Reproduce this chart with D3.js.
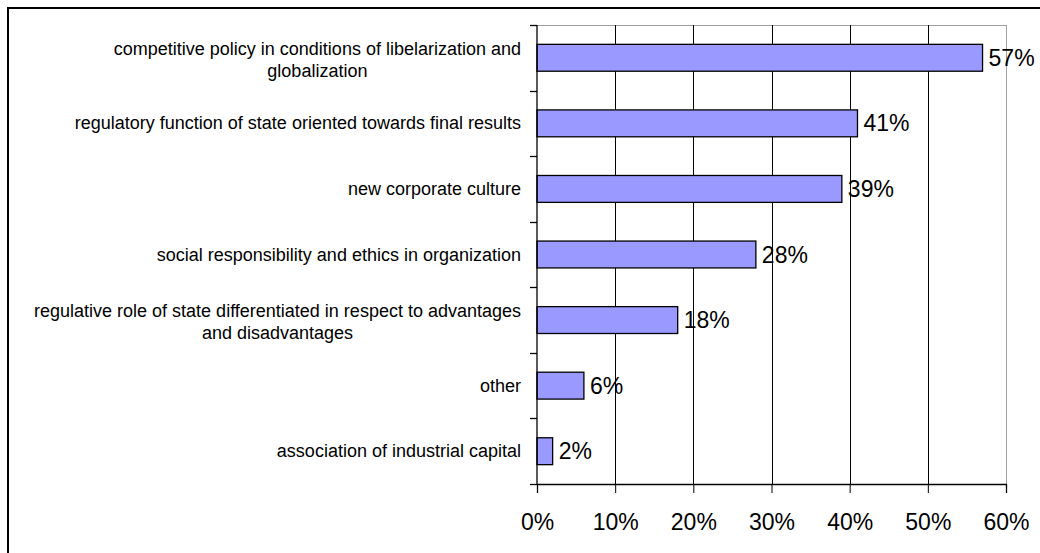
<!DOCTYPE html>
<html>
<head>
<meta charset="utf-8">
<script src="https://cdn.jsdelivr.net/npm/d3@7"></script>
<style>
  html, body { margin: 0; padding: 0; background: #fff; }
  svg { display: block; }
</style>
</head>
<body>
<svg id="chart" width="1040" height="553"></svg>
<script>
const categories = [
  ["competitive policy in conditions of libelarization and", "globalization"],
  ["regulatory function of state oriented towards final results"],
  ["new corporate culture"],
  ["social responsibility and ethics in organization"],
  ["regulative role of state differentiated in respect to advantages", "and disadvantages"],
  ["other"],
  ["association of industrial capital"]
];
const values = [57, 41, 39, 28, 18, 6, 2];
const xTicks = [0, 10, 20, 30, 40, 50, 60];

(function () {
const svg = d3.select("#chart");
const font = "'Liberation Sans', Arial, sans-serif";

// outer frame (extends beyond the visible area)
svg.append("rect").attr("x", 8).attr("y", 8).attr("width", 1100).attr("height", 600)
  .attr("fill", "none").attr("stroke", "#000").attr("stroke-width", 2);

const pLeft = 537, pRight = 1006, pTop = 25, pBottom = 484;
const x = d3.scaleLinear().domain([0, 60]).range([pLeft, pRight]);
const y = d3.scaleBand().domain(d3.range(categories.length)).range([pTop, pBottom]).paddingInner(0.59).paddingOuter(0.295);
const band = d3.scaleBand().domain(d3.range(categories.length)).range([pTop, pBottom]);

// plot area top border & gridlines
svg.append("line").attr("x1", pLeft).attr("x2", pRight).attr("y1", pTop + 0.5).attr("y2", pTop + 0.5)
  .attr("stroke", "#a0a0a0").attr("stroke-width", 1);
svg.append("g").selectAll("line").data(xTicks.slice(1)).join("line")
  .attr("x1", d => Math.round(x(d)) + 0.5).attr("x2", d => Math.round(x(d)) + 0.5)
  .attr("y1", pTop).attr("y2", pBottom)
  .attr("stroke", d => d === 60 ? "#a0a0a0" : "#000").attr("stroke-width", 1);

// bars
svg.append("g").selectAll("rect").data(values).join("rect")
  .attr("x", x(0)).attr("y", (d, i) => y(i))
  .attr("width", d => x(d) - x(0)).attr("height", y.bandwidth())
  .attr("fill", "#9999ff").attr("stroke", "#000").attr("stroke-width", 1.3);

// value labels
svg.append("g").selectAll("text").data(values).join("text")
  .attr("x", d => x(d) + 6).attr("y", (d, i) => y(i) + y.bandwidth() / 2 + 8)
  .attr("font-family", font).attr("font-size", 23).attr("fill", "#000")
  .text(d => d + "%");

// x axis
const xAxis = d3.axisBottom(x).tickValues(xTicks).tickFormat(d => d + "%").tickSize(9).tickPadding(21);
const gx = svg.append("g").attr("transform", `translate(0,${pBottom})`).call(xAxis);
gx.select(".domain").attr("stroke", "#000").attr("stroke-width", 1.3);
gx.selectAll(".tick line").attr("stroke", "#000");
gx.selectAll(".tick text").attr("font-family", font).attr("font-size", 23).attr("fill", "#000");

// y axis line and ticks at band boundaries
svg.append("line").attr("x1", pLeft).attr("x2", pLeft).attr("y1", pTop).attr("y2", pBottom + 1)
  .attr("stroke", "#000").attr("stroke-width", 1.3);
const boundaries = d3.range(categories.length + 1).map(i => i < categories.length ? band(i) : pBottom);
svg.append("g").selectAll("line").data(boundaries).join("line")
  .attr("x1", pLeft - 7).attr("x2", pLeft).attr("y1", d => Math.round(d) + 0.5).attr("y2", d => Math.round(d) + 0.5)
  .attr("stroke", "#000").attr("stroke-width", 1.3);

// category labels
const lineH = 22;
const cat = svg.append("g").selectAll("text").data(categories).join("text")
  .attr("font-family", font).attr("font-size", 18).attr("fill", "#000")
  .attr("text-anchor", "middle")
  .attr("transform", (d, i) => `translate(0,${band(i) + band.bandwidth() / 2})`);
cat.each(function(lines) {
  const t = d3.select(this);
  const n = lines.length;
  lines.forEach((s, k) => {
    t.append("tspan").attr("x", 0).attr("y", (k - (n - 1) / 2) * lineH + (n > 1 ? 8 : 6)).text(s);
  });
});
cat.each(function() {
  const bb = this.getBBox();
  d3.select(this).selectAll("tspan").attr("x", 521 - bb.width / 2);
});
})();
</script>
</body>
</html>
